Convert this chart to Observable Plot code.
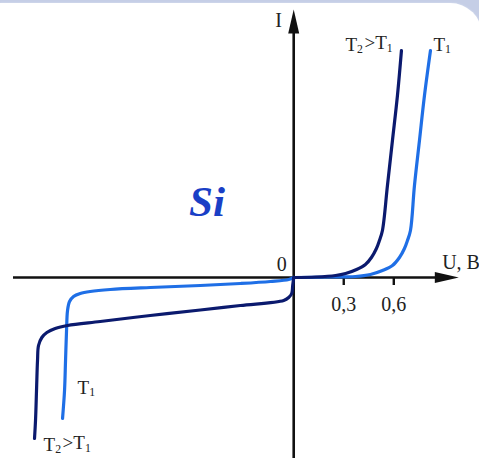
<!DOCTYPE html>
<html>
<head>
<meta charset="utf-8">
<script src="https://cdn.jsdelivr.net/npm/d3@7"></script>
<script src="https://cdn.jsdelivr.net/npm/@observablehq/plot@0.6"></script>
<style>
  html, body { margin: 0; padding: 0; }
  body { width: 479px; height: 466px; overflow: hidden; background: #c5cee6; position: relative; }
  #panel {
    position: absolute; left: 0; top: 3px; width: 482px; height: 480px;
    background: #ffffff; border-top-right-radius: 32px;
    box-shadow: 0 0 2px #dfe5f3;
  }
  #chart { position: absolute; left: 0; top: 0; }
</style>
</head>
<body>
<div id="panel"></div>
<div id="chart"></div>
<script>
// Silicon diode I–V characteristic at two temperatures (T2 > T1).
// U in volts along x, I in arbitrary units along y.

// Forward branch, higher temperature T2
const forwardT2U = [0, 0.131, 0.251, 0.311, 0.377, 0.43, 0.466, 0.496, 0.514, 0.532, 0.562, 0.592, 0.622, 0.646];
const forwardT2I = [0, 0.1, 0.4, 0.8, 1.6, 2.6, 4.0, 5.8, 7.4, 9.4, 18.4, 27.4, 36.4, 45.4];

// Forward branch, lower temperature T1
const forwardT1U = [0, 0.221, 0.37, 0.46, 0.532, 0.592, 0.634, 0.664, 0.682, 0.70, 0.724, 0.754, 0.784, 0.82];
const forwardT1I = [0, 0.1, 0.2, 0.6, 1.4, 2.4, 4.0, 5.8, 7.4, 9.4, 18.4, 27.4, 36.4, 45.4];

// Reverse branch, higher temperature T2
const reverseT2U = [0, -0.006, -0.012, -0.03, -0.06, -0.32, -0.56, -0.86, -1.16, -1.356, -1.43, -1.48, -1.51, -1.53, -1.536, -1.542, -1.548, -1.554];
const reverseT2I = [0, -1.6, -3.2, -4.0, -4.6, -5.6, -6.5, -7.6, -8.8, -9.6, -10.2, -11.0, -12.0, -13.6, -16.6, -22.6, -28.6, -32.2];

// Reverse branch, lower temperature T1
const reverseT1U = [0, -0.03, -0.14, -0.32, -0.56, -0.86, -1.10, -1.22, -1.28, -1.32, -1.344, -1.356, -1.362, -1.368, -1.374, -1.386];
const reverseT1I = [0, -0.4, -0.8, -1.2, -1.6, -2.0, -2.4, -2.8, -3.2, -3.8, -4.8, -6.6, -10.6, -16.6, -22.6, -28.2];

// Axis ticks on the voltage axis
const tickValues = [0.3, 0.6];
const tickLabels = ["0,3", "0,6"];

// Curve labels
const labelTexts = ["T2>T1", "T1", "T1", "T2>T1"];
const labelU = [0.31, 0.838, -1.296, -1.50];
const labelI = [45.4, 45.4, -23.2, -34.6];

const colorT2 = "#0b1a6e";
const colorT1 = "#1f6fe6";

const toPoints = (us, is) => us.map((u, k) => ({u, i: is[k]}));
const fT2 = toPoints(forwardT2U, forwardT2I);
const fT1 = toPoints(forwardT1U, forwardT1I);
const rT2 = toPoints(reverseT2U, reverseT2I);
const rT1 = toPoints(reverseT1U, reverseT1I);

const xMin = -1.68, xMax = 0.99, yMin = -36.2, yMax = 53.6;

// Filled, narrow arrowhead whose tip sits at the symbol origin, pointing up
const arrowHead = {
  draw(context) {
    context.moveTo(0, 0);
    context.lineTo(5.5, 24);
    context.lineTo(-5.5, 24);
    context.closePath();
  }
};

const serif = "Liberation Serif";

const chart = Plot.plot({
  width: 479,
  height: 466,
  marginLeft: 13,
  marginRight: 19,
  marginTop: 7,
  marginBottom: 9,
  style: {background: "transparent", overflow: "visible"},
  x: {domain: [-1.68, 1.0], axis: null},
  y: {domain: [-36, 54], axis: null},
  marks: [
    // axes
    Plot.ruleY([0], {x1: xMin, x2: xMax - 0.06, stroke: "#111", strokeWidth: 2.6}),
    Plot.ruleX([0], {y1: yMin, y2: yMax - 3, stroke: "#111", strokeWidth: 2.6}),
    Plot.dot([{u: 0, i: yMax}], {x: "u", y: "i", symbol: arrowHead, fill: "#111", stroke: "none"}),
    Plot.dot([{u: xMax, i: 0}], {x: "u", y: "i", symbol: arrowHead, fill: "#111", stroke: "none", rotate: 90}),
    Plot.ruleX(tickValues, {y1: 0, y2: -1.6, stroke: "#111", strokeWidth: 2.4}),
    Plot.text(tickLabels, {x: (d, k) => tickValues[k], y: -5.5, text: d => d, fontFamily: serif, fontSize: 20, fill: "#222"}),
    Plot.text(["0"], {x: -0.072, y: 2.6, text: d => d, fontFamily: serif, fontSize: 20, fill: "#222"}),
    Plot.text(["I"], {x: -0.09, y: 51.4, text: d => d, fontFamily: serif, fontSize: 20, fill: "#222"}),
    Plot.text(["U, В"], {x: 0.89, y: 3, text: d => d, textAnchor: "start", fontFamily: serif, fontSize: 20, fill: "#222"}),
    // characteristic curves
    Plot.line(rT1, {x: "u", y: "i", stroke: colorT1, strokeWidth: 3.2, curve: "catmull-rom"}),
    Plot.line(fT1, {x: "u", y: "i", stroke: colorT1, strokeWidth: 3.2, curve: "catmull-rom"}),
    Plot.line(rT2, {x: "u", y: "i", stroke: colorT2, strokeWidth: 3.2, curve: "catmull-rom"}),
    Plot.line(fT2, {x: "u", y: "i", stroke: colorT2, strokeWidth: 3.2, curve: "catmull-rom"}),
    // curve labels
    Plot.text(labelTexts, {x: (d, k) => labelU[k], y: (d, k) => labelI[k], text: d => d, textAnchor: "start", fontFamily: serif, fontSize: 19, fill: "#222", lineAnchor: "bottom"}),
    // material
    Plot.text(["Si"], {x: -0.52, y: 12.4, text: d => d, fontFamily: serif, fontSize: 43, fontWeight: "bold", fontStyle: "italic", fill: "#1a3fc6", lineAnchor: "bottom"})
  ]
});

// Turn the digits after T into subscripts
d3.select(chart).selectAll("text").each(function () {
  const el = d3.select(this);
  const s = el.text();
  if (!/^T\d/.test(s)) return;
  el.text(null);
  for (const part of s.match(/T\d|>/g)) {
    if (part === ">") {
      el.append("tspan").text(">");
    } else {
      el.append("tspan").text("T");
      el.append("tspan").attr("font-size", "0.62em").attr("dy", "0.22em").text(part[1]);
      el.append("tspan").attr("dy", "-0.22em").text("\u200a");
    }
  }
});

document.getElementById("chart").appendChild(chart);
</script>
</body>
</html>
